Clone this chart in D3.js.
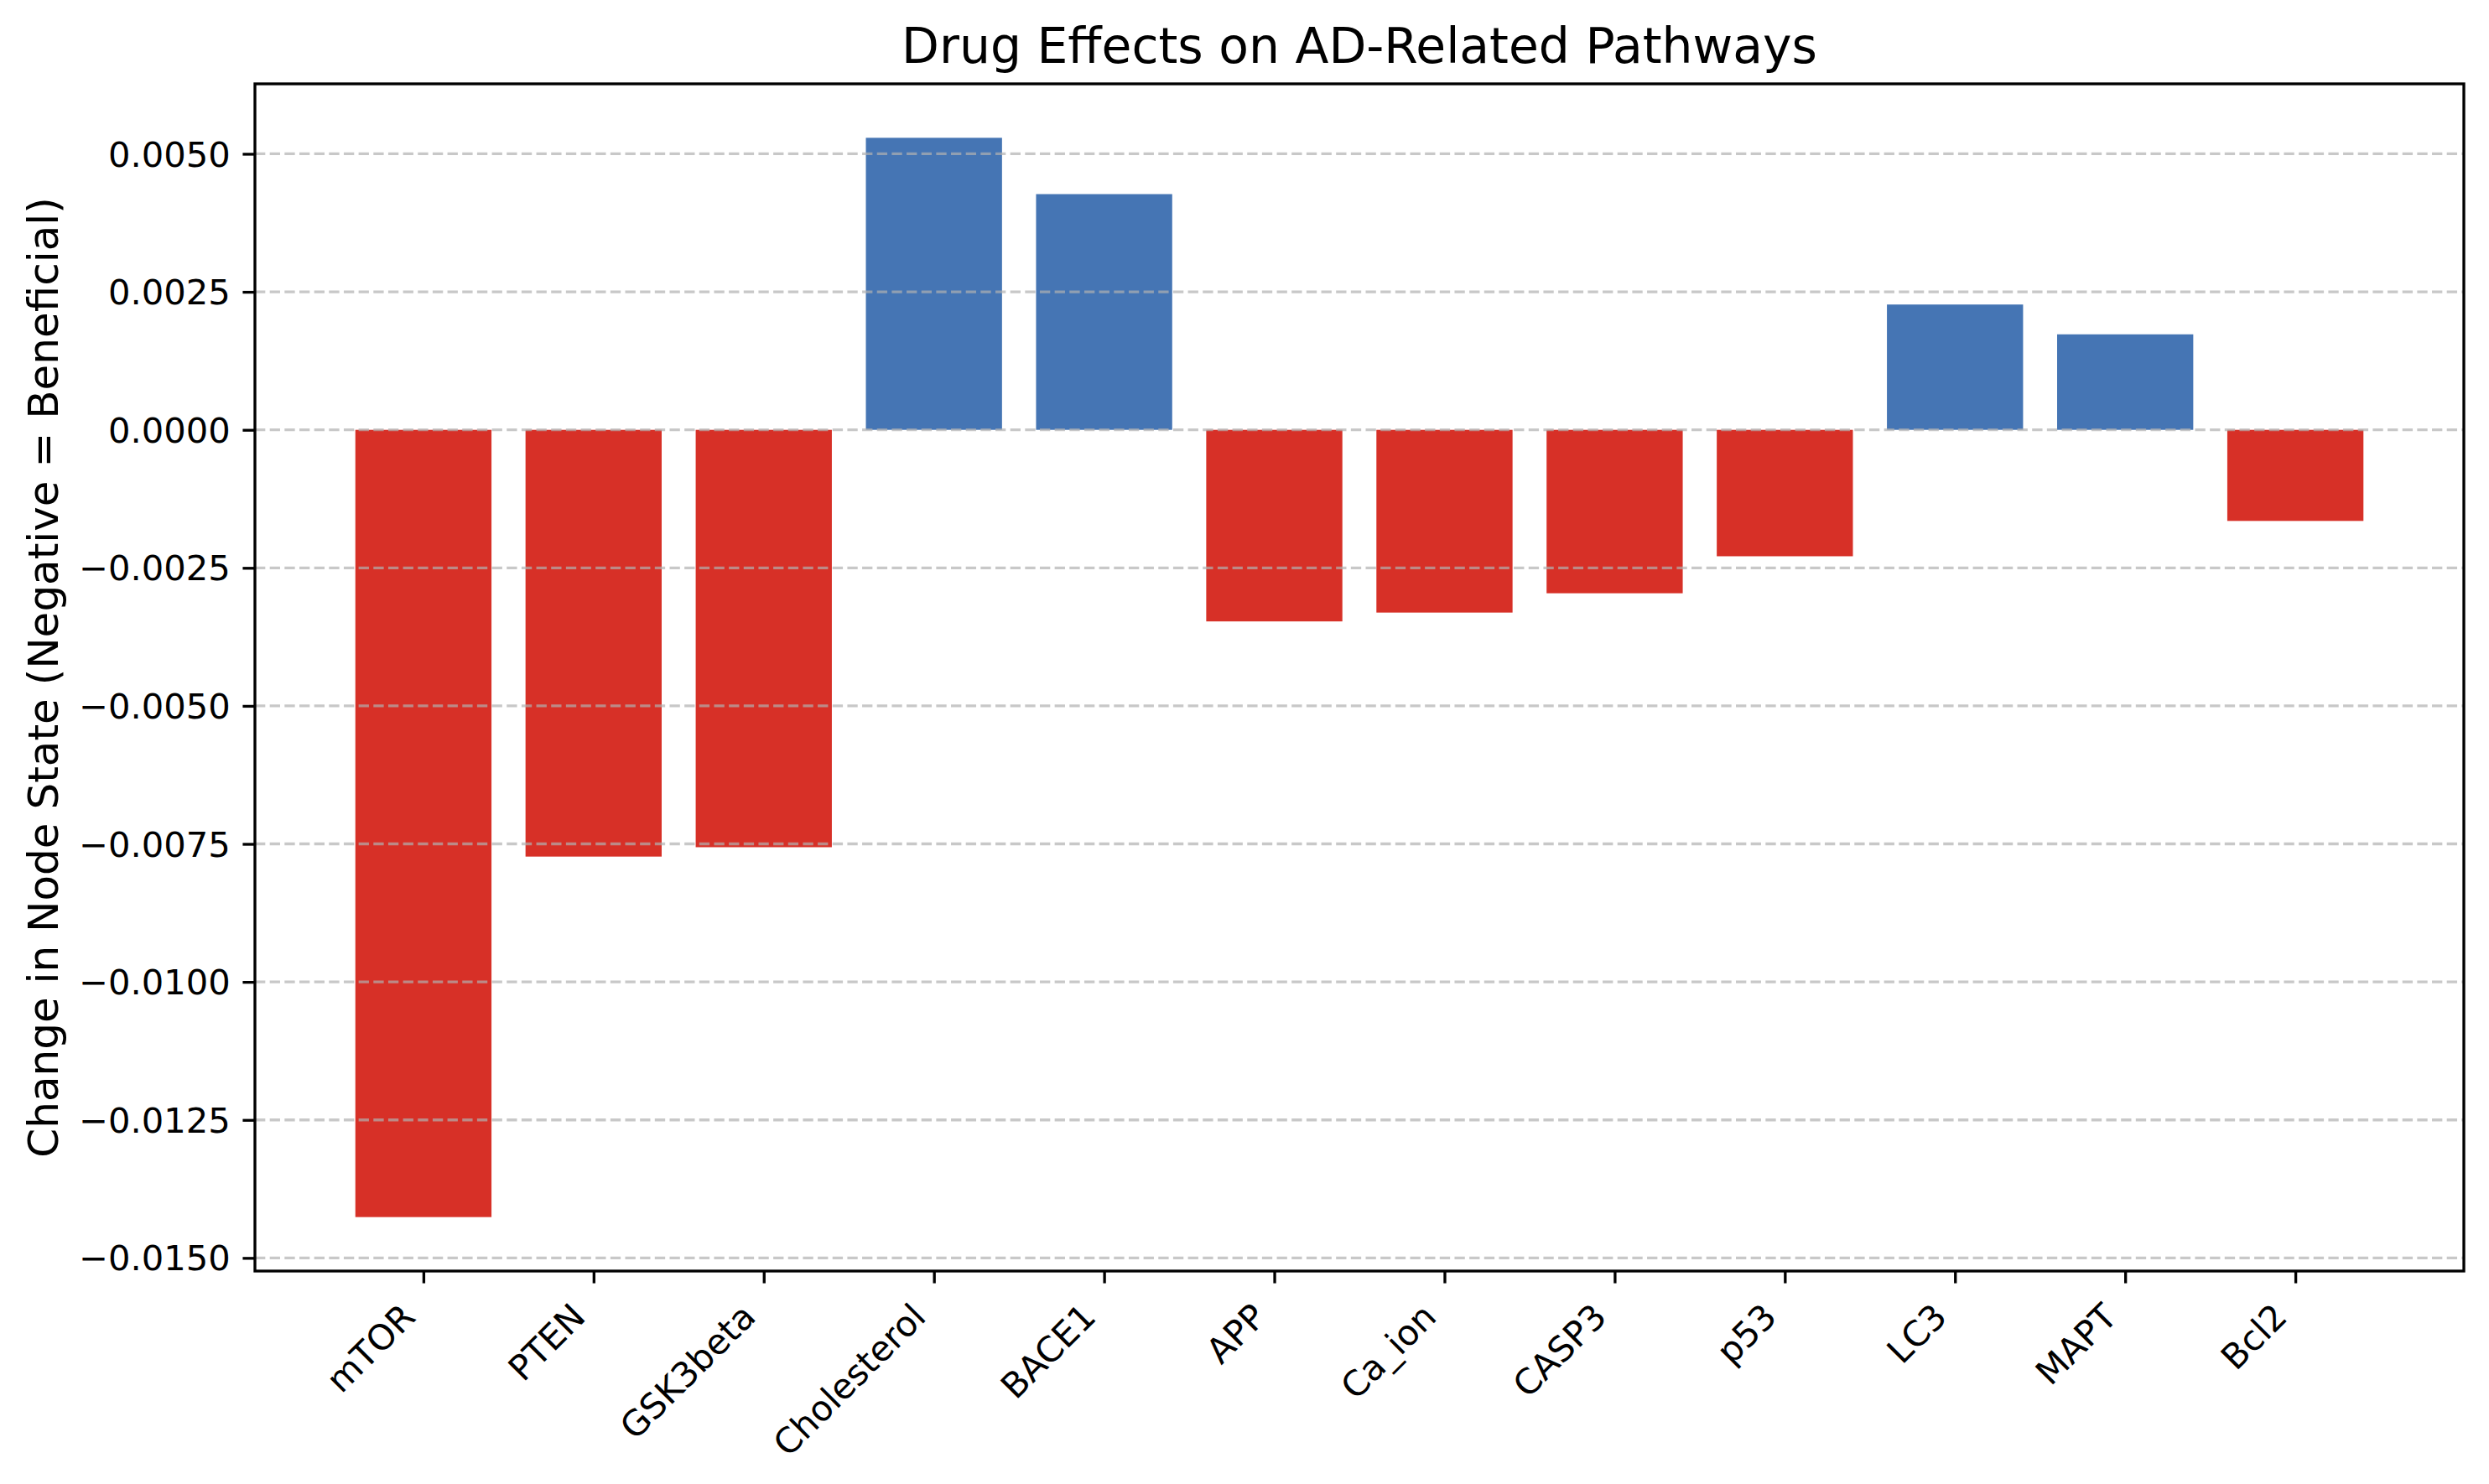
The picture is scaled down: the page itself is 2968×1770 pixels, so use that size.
<!DOCTYPE html>
<html>
<head>
<meta charset="utf-8">
<script src="https://cdn.jsdelivr.net/npm/d3@7"></script>
<style>
  body { margin: 0; background: #fff; }
  text { font-family: "DejaVu Sans", sans-serif; fill: #000; }
</style>
</head>
<body>
<div id="chart"></div>
<script>
// node names and change in state
var nodes = ["mTOR", "PTEN", "GSK3beta", "Cholesterol", "BACE1", "APP",
             "Ca_ion", "CASP3", "p53", "LC3", "MAPT", "Bcl2"];
var changes = [-0.01426, -0.00773, -0.00756, 0.00529, 0.00427, -0.00347,
               -0.00331, -0.00296, -0.00229, 0.00227, 0.00173, -0.00165];
var yTicks = [-0.0150, -0.0125, -0.0100, -0.0075, -0.0050, -0.0025, 0.0000, 0.0025, 0.0050];

var width = 2968, height = 1770;
var margin = {top: 100, right: 30, bottom: 254, left: 304};
var innerW = width - margin.left - margin.right,
    innerH = height - margin.top - margin.bottom;

var svg = d3.select("#chart").append("svg")
  .attr("width", width)
  .attr("height", height);

var g = svg.append("g")
  .attr("transform", "translate(" + margin.left + "," + margin.top + ")");

// matplotlib style 5% margins around the data
var barW = 0.8;
var xlo = -barW / 2, xhi = nodes.length - 1 + barW / 2;
var x = d3.scaleLinear()
  .domain([xlo - 0.05 * (xhi - xlo), xhi + 0.05 * (xhi - xlo)])
  .range([0, innerW]);

var ymin = d3.min(changes), ymax = d3.max(changes);
var yr = ymax - ymin;
var y = d3.scaleLinear()
  .domain([ymin - 0.05 * yr, ymax + 0.05 * yr])
  .range([innerH, 0]);

// bars
g.selectAll(".bar")
  .data(changes)
  .enter()
  .append("rect")
  .attr("class", "bar")
  .attr("x", function(d, i){ return x(i - barW / 2); })
  .attr("width", function(d, i){ return x(i + barW / 2) - x(i - barW / 2); })
  .attr("y", function(d){ return y(Math.max(0, d)); })
  .attr("height", function(d){ return Math.abs(y(d) - y(0)); })
  .attr("fill", function(d){ return d < 0 ? "#d73027" : "#4575b4"; });

// dashed y grid on top of bars
g.append("g")
  .selectAll("line")
  .data(yTicks)
  .enter()
  .append("line")
  .attr("x1", 0)
  .attr("x2", innerW)
  .attr("y1", function(d){ return y(d); })
  .attr("y2", function(d){ return y(d); })
  .attr("stroke", "#b0b0b0")
  .attr("stroke-opacity", 0.7)
  .attr("stroke-width", 3.33)
  .attr("stroke-dasharray", "12.33,5.33");

var fmt = function(d){ return d3.format(".4f")(d).replace("-", "\u2212"); };

// y axis
var yAxis = g.append("g")
  .call(d3.axisLeft(y).tickValues(yTicks).tickFormat(fmt).tickSize(14.58).tickPadding(14.58));
yAxis.select(".domain").remove();
yAxis.selectAll(".tick line").attr("stroke", "#000").attr("stroke-width", 3.33);
yAxis.selectAll(".tick text")
  .style("font-size", "41.67px")
  .style("font-family", "DejaVu Sans")
  .attr("fill", "#000")
  .attr("dy", "0.35em");

// x axis
var xAxis = g.append("g")
  .attr("transform", "translate(0," + innerH + ")")
  .call(d3.axisBottom(x).tickValues(d3.range(nodes.length))
    .tickFormat(function(i){ return nodes[i]; }).tickSize(14.58));
xAxis.select(".domain").remove();
xAxis.selectAll(".tick line").attr("stroke", "#000").attr("stroke-width", 3.33);
xAxis.selectAll(".tick text")
  .style("font-size", "41.67px")
  .style("font-family", "DejaVu Sans")
  .attr("fill", "#000")
  .attr("text-anchor", "end")
  .attr("x", 0)
  .attr("y", 0)
  .attr("dy", 0)
  .attr("transform", "translate(-8,57) rotate(-45)");

// frame
g.append("rect")
  .attr("x", 0)
  .attr("y", 0)
  .attr("width", innerW)
  .attr("height", innerH)
  .attr("fill", "none")
  .attr("stroke", "#000")
  .attr("stroke-width", 3.33);

// title
svg.append("text")
  .attr("x", margin.left + innerW / 2)
  .attr("y", margin.top - 25)
  .attr("text-anchor", "middle")
  .style("font-size", "58.33px")
  .text("Drug Effects on AD-Related Pathways");

// y label
svg.append("text")
  .attr("transform", "translate(69," + (margin.top + innerH / 2) + ") rotate(-90)")
  .attr("text-anchor", "middle")
  .style("font-size", "50px")
  .text("Change in Node State (Negative = Beneficial)");
</script>
</body>
</html>
